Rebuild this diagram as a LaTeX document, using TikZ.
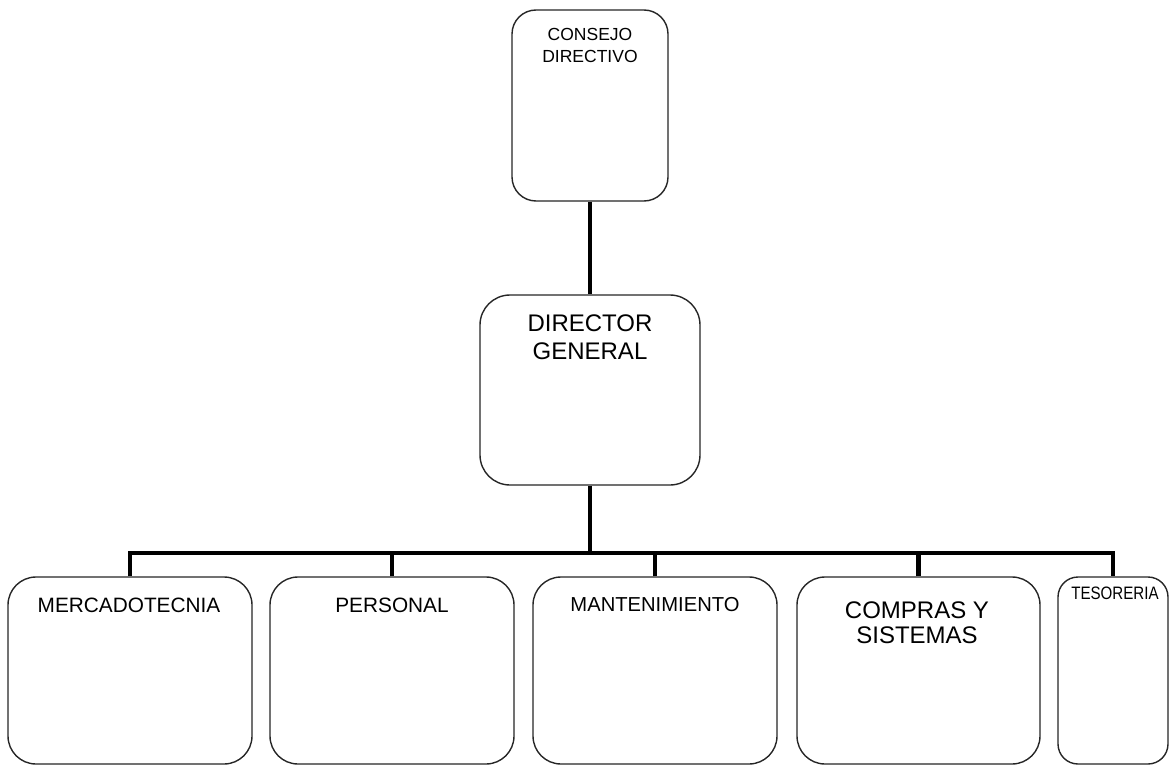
\documentclass[tikz,border=0pt]{standalone}
\usepackage{fontspec}
\setmainfont{Liberation Sans}
\begin{document}
\begin{tikzpicture}[x=1pt,y=-1pt,
  box/.style={draw=black!85,line width=1.4pt,rounded corners=#1,inner sep=0pt,fill=white},
  box/.default=28pt,
  txt/.style={anchor=north,inner sep=0pt,align=center,text=black},
  conn/.style={line width=4.8pt,black,line join=miter}]
\useasboundingbox (0,0) rectangle (1170,765);
% boxes
\node[box=24pt,minimum width=156pt,minimum height=191pt] (cd) at (590,105.5) {};
\node[box=30pt,minimum width=220pt,minimum height=190pt] (dg) at (590,390) {};
\node[box,minimum width=244pt,minimum height=187pt] (m1) at (130,670.5) {};
\node[box,minimum width=244pt,minimum height=187pt] (m2) at (392,670.5) {};
\node[box,minimum width=244pt,minimum height=187pt] (m3) at (655,670.5) {};
\node[box,minimum width=243pt,minimum height=187pt] (m4) at (918.5,670.5) {};
\node[box=20pt,minimum width=110pt,minimum height=187pt] (m5) at (1113,670.5) {};
% texts
\node[txt,font=\fontsize{17.5}{22}\selectfont] (tcd) at (590,28) {CONSEJO\\DIRECTIVO};
\node[txt,font=\fontsize{24}{28}\selectfont] (tdg) at (590,315) {DIRECTOR\\GENERAL};
\node[txt,font=\fontsize{20.8}{24}\selectfont] (t1) at (129,598) {MERCADOTECNIA};
\node[txt,font=\fontsize{20.8}{24}\selectfont] (t2) at (392,598) {PERSONAL};
\node[txt,font=\fontsize{20.2}{24}\selectfont] (t3) at (655,597) {MANTENIMIENTO};
\node[txt,font=\fontsize{24}{25}\selectfont] (t4) at (917,602) {COMPRAS Y\\SISTEMAS};
\node[txt,font=\fontsize{18}{22}\selectfont,xscale=0.84] (t5) at (1115,587) {TESORERIA};
% connectors
\coordinate (bus) at (590,553);
\draw[conn] (cd.south) -- (dg.north);
\draw[conn] (dg.south) -- (bus);
\draw[conn] (m1.north) |- (bus) -| (m5.north);
\draw[conn] (m2.north) -- (m2.north |- bus);
\draw[conn] (m3.north) -- (m3.north |- bus);
\draw[conn] (m4.north) -- (m4.north |- bus);
\end{tikzpicture}
\end{document}
